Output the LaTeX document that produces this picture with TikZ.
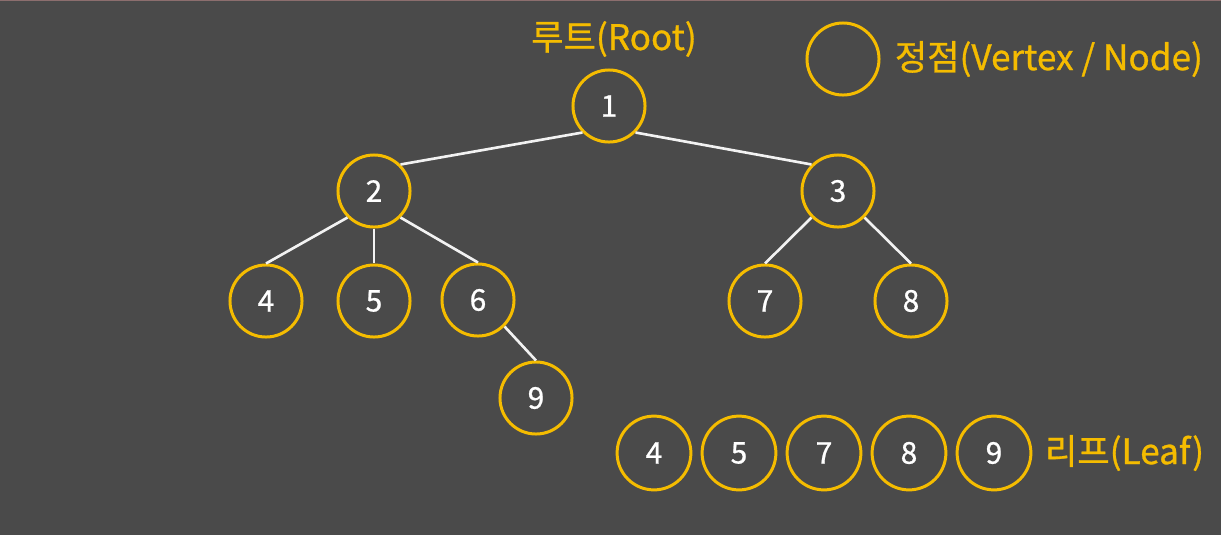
\documentclass[tikz,border=0pt]{standalone}
\usepackage{fontspec}
\setmainfont{Noto Sans CJK KR}
\newfontfamily\labelfont[FakeBold=0.8]{Noto Sans CJK KR}
\usepackage{xcolor}
\usetikzlibrary{positioning}

\definecolor{bgdark}{HTML}{4A4A4A}
\definecolor{vyellow}{HTML}{F5BC00}
\definecolor{edgewhite}{HTML}{F2F2F2}
\definecolor{topline}{HTML}{8C6E6E}

\tikzset{
  vtx/.style={draw=vyellow, line width=1.7pt, circle, minimum size=41pt, inner sep=0pt,
              text=white, font=\labelfont\fontsize{17}{17}\selectfont},
  leafvtx/.style={vtx, minimum size=42pt},
  tag/.style={text=vyellow, font=\labelfont\fontsize{20}{20}\selectfont, inner sep=0pt},
  edge/.style={draw=edgewhite, line width=1.5pt}
}

\begin{document}
\begin{tikzpicture}[x=0.02cm, y=-0.02cm]
\fill[bgdark] (0,0) rectangle (1221,535);
\useasboundingbox (0,0) rectangle (1221,535);
\draw[topline, line width=1pt] (0,0.5) -- (1221,0.5);

\node[vtx] (v1) at (609,106) {1};
\node[vtx] (v2) at (374,191) {2};
\node[vtx] (v3) at (838,191) {3};
\node[vtx] (v4) at (266,301) {4};
\node[vtx] (v5) at (374,301) {5};
\node[vtx] (v6) at (478,300) {6};
\node[vtx] (v7) at (765,301) {7};
\node[vtx] (v8) at (911,301) {8};
\node[vtx] (v9) at (536,398) {9};

\node[tag] (root) at (614,39) {루트(Root)};

\foreach \u/\v in {v1.south west/v2.north east, v1.south east/v3.north west,
                   v2.south west/v4.north, v2.south/v5.north, v2.south east/v6.north,
                   v3.south west/v7.north, v3.south east/v8.north, v6.south east/v9.north}
    \draw[edge] (\u) -- (\v);

% Legend
\node[vtx] (legend) at (843,59) {};
\node[tag, right=8pt of legend] (vertex) {정점(Vertex / Node)};

\foreach \n/\x in {4/654, 5/739, 7/824, 8/909, 9/994}
    \node[leafvtx] (leaf\n) at (\x,453) {\n};
\node[tag, right=7pt of leaf9] (leaf) {리프(Leaf)};
\end{tikzpicture}
\end{document}
